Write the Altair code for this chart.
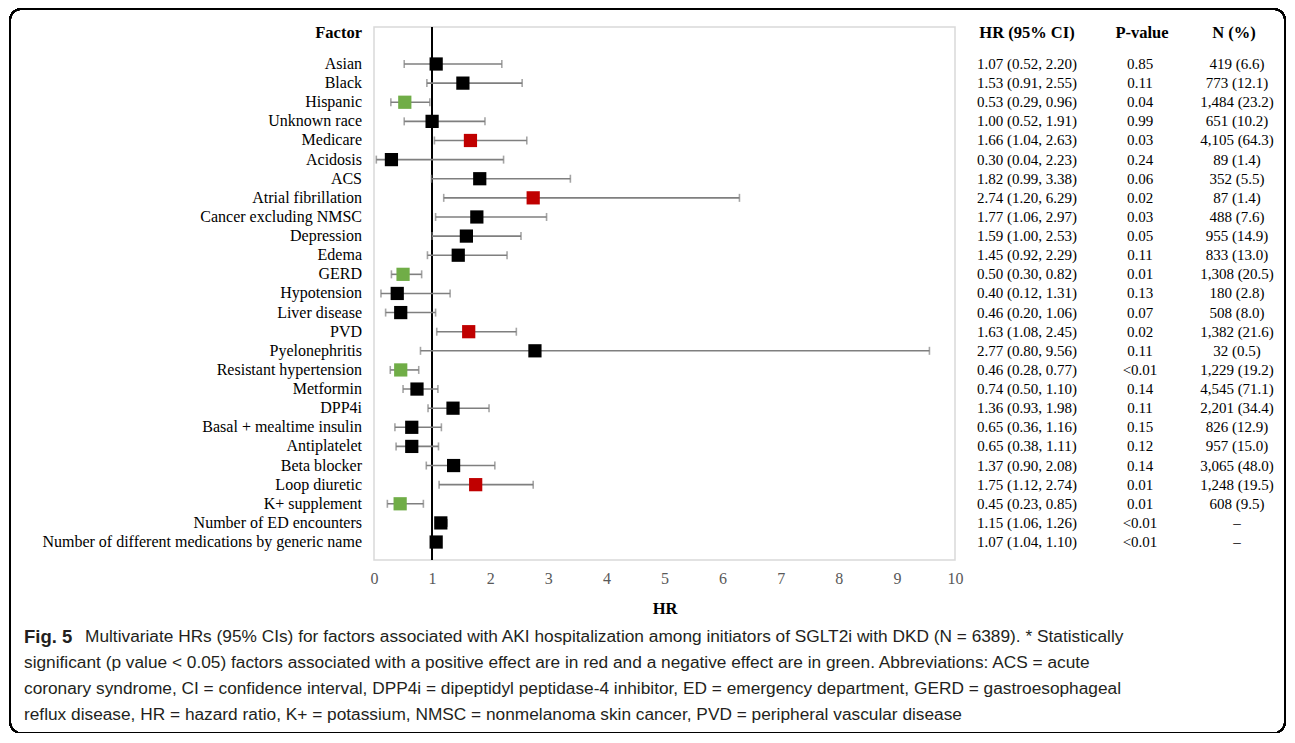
import altair as alt
import pandas as pd

factors = ["Asian", "Black", "Hispanic", "Unknown race", "Medicare", "Acidosis", "ACS",
           "Atrial fibrillation", "Cancer excluding NMSC", "Depression", "Edema", "GERD",
           "Hypotension", "Liver disease", "PVD", "Pyelonephritis", "Resistant hypertension",
           "Metformin", "DPP4i", "Basal + mealtime insulin", "Antiplatelet", "Beta blocker",
           "Loop diuretic", "K+ supplement", "Number of ED encounters",
           "Number of different medications by generic name"]
hr = [1.07, 1.53, 0.53, 1.00, 1.66, 0.30, 1.82, 2.74, 1.77, 1.59, 1.45, 0.50, 0.40, 0.46,
      1.63, 2.77, 0.46, 0.74, 1.36, 0.65, 0.65, 1.37, 1.75, 0.45, 1.15, 1.07]
lo = [0.52, 0.91, 0.29, 0.52, 1.04, 0.04, 0.99, 1.20, 1.06, 1.00, 0.92, 0.30, 0.12, 0.20,
      1.08, 0.80, 0.28, 0.50, 0.93, 0.36, 0.38, 0.90, 1.12, 0.23, 1.06, 1.04]
hi = [2.20, 2.55, 0.96, 1.91, 2.63, 2.23, 3.38, 6.29, 2.97, 2.53, 2.29, 0.82, 1.31, 1.06,
      2.45, 9.56, 0.77, 1.10, 1.98, 1.16, 1.11, 2.08, 2.74, 0.85, 1.26, 1.10]
pvals = ["0.85", "0.11", "0.04", "0.99", "0.03", "0.24", "0.06", "0.02", "0.03", "0.05",
         "0.11", "0.01", "0.13", "0.07", "0.02", "0.11", "<0.01", "0.14", "0.11", "0.15",
         "0.12", "0.14", "0.01", "0.01", "<0.01", "<0.01"]
n_pct = ["419 (6.6)", "773 (12.1)", "1,484 (23.2)", "651 (10.2)", "4,105 (64.3)", "89 (1.4)",
         "352 (5.5)", "87 (1.4)", "488 (7.6)", "955 (14.9)", "833 (13.0)", "1,308 (20.5)",
         "180 (2.8)", "508 (8.0)", "1,382 (21.6)", "32 (0.5)", "1,229 (19.2)", "4,545 (71.1)",
         "2,201 (34.4)", "826 (12.9)", "957 (15.0)", "3,065 (48.0)", "1,248 (19.5)",
         "608 (9.5)", "\u2013", "\u2013"]
effect = ["ns", "ns", "neg", "ns", "pos", "ns", "ns", "pos", "ns", "ns", "ns", "neg", "ns",
          "ns", "pos", "ns", "neg", "ns", "ns", "ns", "ns", "ns", "pos", "neg", "ns", "ns"]

headers = ["Factor", "HR (95% CI)", "P-value", "N (%)"]
caption_lead = "Fig. 5"
caption_lines = [
    "Multivariate HRs (95% CIs) for factors associated with AKI hospitalization among initiators of SGLT2i with DKD (N = 6389). * Statistically",
    "significant (p value < 0.05) factors associated with a positive effect are in red and a negative effect are in green. Abbreviations: ACS = acute",
    "coronary syndrome, CI = confidence interval, DPP4i = dipeptidyl peptidase-4 inhibitor, ED = emergency department, GERD = gastroesophageal",
    "reflux disease, HR = hazard ratio, K+ = potassium, NMSC = nonmelanoma skin cancer, PVD = peripheral vascular disease",
]

df = pd.DataFrame({
    "row": list(range(1, len(factors) + 1)),
    "factor": factors, "hr": hr, "lo": lo, "hi": hi,
    "p": pvals, "n": n_pct, "effect": effect,
})
df["ci"] = [f"{h:.2f} ({l:.2f}, {u:.2f})" for h, l, u in zip(hr, lo, hi)]

W, H = 581, 533
SERIF = "Liberation Serif"
SANS = "Liberation Sans"

xscale = alt.Scale(domain=[0, 10], nice=False)
xaxis = alt.Axis(values=list(range(11)), title="HR", grid=False, ticks=False,
                 domain=False, labelFont=SERIF, labelFontSize=16, labelFlush=False,
                 labelColor="#595959", labelPadding=10, titleFont=SERIF,
                 titleFontSize=16.5, titleFontWeight="bold", titleColor="#000000",
                 titlePadding=14)
yscale = alt.Scale(domain=[-0.935, 26.94], reverse=True)


def X(field):
    return alt.X(field, scale=xscale, axis=xaxis)


def Y():
    return alt.Y("row:Q", scale=yscale, axis=None)


base = alt.Chart(df)

border = base.mark_rect(
    filled=False, stroke="#000000", strokeWidth=1.5, cornerRadius=11
).encode(x=alt.value(-364), x2=alt.value(911), y=alt.value(-18), y2=alt.value(706))

ref = base.mark_rule(color="#000000", strokeWidth=1.2).encode(x=X("one:Q")).transform_calculate(one="1")

bars = base.mark_rule(color="#7f7f7f", strokeWidth=1.6).encode(x=X("lo:Q"), x2="hi:Q", y=Y())
cap_lo = base.mark_tick(color="#7f7f7f", orient="vertical", size=8, thickness=1.6).encode(
    x=X("lo:Q"), y=Y())
cap_hi = base.mark_tick(color="#7f7f7f", orient="vertical", size=8, thickness=1.6).encode(
    x=X("hi:Q"), y=Y())
pts = base.mark_point(shape="square", filled=True, size=175, opacity=1).encode(
    x=X("hr:Q"), y=Y(),
    color=alt.Color("effect:N", scale=alt.Scale(domain=["ns", "pos", "neg"],
                                               range=["#000000", "#C00000", "#70AD47"]),
                    legend=None))

lab = base.mark_text(align="right", baseline="middle", font=SERIF, fontSize=16,
                     color="#000000").encode(y=Y(), x=alt.value(-12), text="factor:N")
col_ci = base.mark_text(align="center", baseline="middle", font=SERIF, fontSize=15,
                        color="#000000").encode(y=Y(), x=alt.value(653), text="ci:N")
col_p = base.mark_text(align="center", baseline="middle", font=SERIF, fontSize=15,
                       color="#000000").encode(y=Y(), x=alt.value(766), text="p:N")
col_n = base.mark_text(align="center", baseline="middle", font=SERIF, fontSize=15,
                       color="#000000").encode(y=Y(), x=alt.value(863), text="n:N")

hdr_px = [-12, 653, 768, 860]
hdr_layers = []
for i, h in enumerate(headers):
    hdr_layers.append(alt.Chart(pd.DataFrame({"h": [h]})).mark_text(
        align="right" if i == 0 else "center", baseline="middle", font=SERIF,
        fontSize=16.5, fontWeight="bold", color="#000000").encode(
        x=alt.value(hdr_px[i]), y=alt.value(6), text="h:N"))

cap_layers = [alt.Chart(pd.DataFrame({"t": [caption_lead]})).mark_text(
    align="left", baseline="middle", font=SANS, fontSize=18.5, fontWeight="bold",
    color="#231f20").encode(x=alt.value(-350), y=alt.value(610), text="t:N")]
cap_px = [-289, -350, -350, -350]
cap_py = [610, 636, 662, 688]
for i, t in enumerate(caption_lines):
    cap_layers.append(alt.Chart(pd.DataFrame({"t": [t]})).mark_text(
        align="left", baseline="middle", font=SANS, fontSize=17.3, color="#231f20").encode(
        x=alt.value(cap_px[i]), y=alt.value(cap_py[i]), text="t:N"))

chart = alt.layer(border, ref, bars, cap_lo, cap_hi, pts, lab, col_ci, col_p, col_n,
                  *hdr_layers, *cap_layers).properties(
    width=W, height=H,
    autosize=alt.AutoSizeParams(type="none"),
    padding={"left": 366, "top": 19, "right": 332, "bottom": 173},
).configure_view(stroke="#d9d9d9", strokeWidth=1.5)

chart.save("out.html", embed_options={"renderer": "svg", "actions": False})
